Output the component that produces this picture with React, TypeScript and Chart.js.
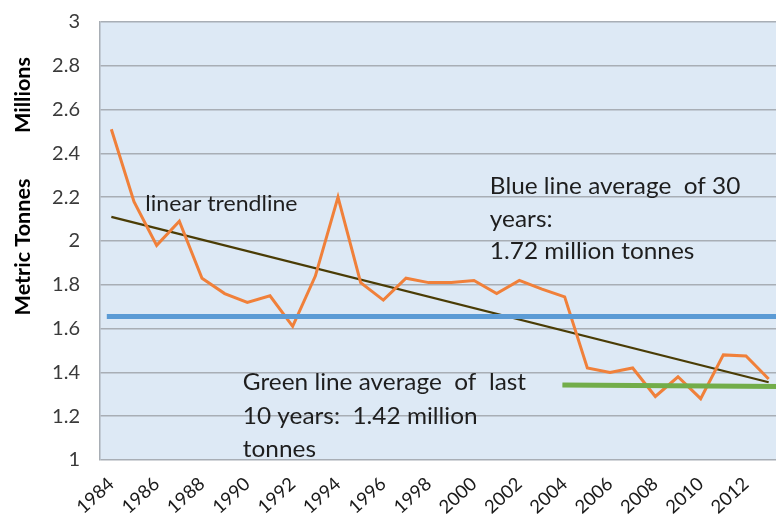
import { useEffect, useRef } from "react";
import { Chart, registerables } from "chart.js";

Chart.register(...registerables);

// ---- data ----
const years = [
  1984, 1985, 1986, 1987, 1988, 1989, 1990, 1991, 1992, 1993,
  1994, 1995, 1996, 1997, 1998, 1999, 2000, 2001, 2002, 2003,
  2004, 2005, 2006, 2007, 2008, 2009, 2010, 2011, 2012, 2013,
];
const production = [
  2.51, 2.18, 1.98, 2.09, 1.83, 1.76, 1.72, 1.75, 1.61, 1.84,
  2.2, 1.81, 1.73, 1.83, 1.81, 1.81, 1.82, 1.76, 1.82, 1.78,
  1.745, 1.42, 1.4, 1.42, 1.29, 1.38, 1.28, 1.48, 1.475, 1.37,
];
const trendYears = [1984, 2013];
const trendValues = [2.11, 1.355];
const blueAvgYears = [1983.8, 2013.6];
const blueAvgValues = [1.655, 1.655];
const greenAvgYears = [2003.9, 2013.6];
const greenAvgValues = [1.342, 1.336];
const xTickYears = [1984, 1986, 1988, 1990, 1992, 1994, 1996, 1998, 2000, 2002, 2004, 2006, 2008, 2010, 2012];
const yMin = 1;
const yMax = 3;
const yStep = 0.2;

const trendLabel = "linear trendline";
const blueNote = ["Blue line average  of 30", "years:", "1.72 million tonnes"];
const greenNote = ["Green line average  of  last", "10 years:  1.42 million", "tonnes"];
const axisTitle = "Metric Tonnes";
const unitsLabel = "Millions";

const pts = (xs: number[], ys: number[]) => xs.map((x, i) => ({ x, y: ys[i] }));

const FONT = "Lato, 'Open Sans', sans-serif";

const bgPlugin = {
  id: "plotBg",
  beforeDraw(chart: any) {
    const { ctx, chartArea } = chart;
    ctx.save();
    ctx.fillStyle = "#dde9f5";
    ctx.fillRect(chartArea.left, chartArea.top, chartArea.right - chartArea.left, chartArea.bottom - chartArea.top);
    ctx.restore();
  },
};

function stretchedText(ctx: any, text: string, x: number, y: number, font: string, sx: number, rot = 0, align = "left") {
  ctx.save();
  ctx.translate(x, y);
  if (rot) ctx.rotate(rot);
  ctx.scale(sx, 1);
  ctx.font = font;
  ctx.textAlign = align;
  ctx.textBaseline = "middle";
  ctx.fillText(text, 0, 0);
  ctx.restore();
}

const textPlugin = {
  id: "notes",
  afterDatasetsDraw(chart: any) {
    const { ctx } = chart;
    const xs = chart.scales.x;
    const ys = chart.scales.y;
    ctx.save();
    ctx.fillStyle = "#1e1e1e";
    stretchedText(ctx, trendLabel, xs.getPixelForValue(1985.5), ys.getPixelForValue(2.169), `21px ${FONT}`, 1.1);
    const bx = xs.getPixelForValue(2000.7);
    blueNote.forEach((t, i) =>
      stretchedText(ctx, t, bx, ys.getPixelForValue(2.247) + i * 32.5, `23px ${FONT}`, 1.06)
    );
    const gx = xs.getPixelForValue(1989.8);
    greenNote.forEach((t, i) =>
      stretchedText(ctx, t, gx, ys.getPixelForValue(1.352) + i * 33.5, `23px ${FONT}`, 1.06)
    );
    ctx.fillStyle = "#000";
    stretchedText(ctx, axisTitle, 24, 247, `bold 20px ${FONT}`, 1.08, -Math.PI / 2, "center");
    stretchedText(ctx, unitsLabel, 24, 95, `bold 20px ${FONT}`, 1.08, -Math.PI / 2, "center");
    ctx.restore();
  },
};

export default function App() {
  const ref = useRef<HTMLCanvasElement | null>(null);
  useEffect(() => {
    if (!ref.current) return;
    const chart = new Chart(ref.current, {
      type: "line",
      data: {
        datasets: [
          {
            label: "green",
            data: pts(greenAvgYears, greenAvgValues),
            borderColor: "#72ad4a",
            borderWidth: 5,
            pointRadius: 0,
          },
          {
            label: "blue",
            data: pts(blueAvgYears, blueAvgValues),
            borderColor: "#5b9bd5",
            borderWidth: 5,
            pointRadius: 0,
          },
          {
            label: "production",
            data: pts(years, production),
            borderColor: "#f0803a",
            borderWidth: 3,
            pointRadius: 0,
            tension: 0,
          },
          {
            label: "trend",
            data: pts(trendYears, trendValues),
            borderColor: "#4a3c05",
            borderWidth: 2.3,
            pointRadius: 0,
          },
        ],
      },
      options: {
        animation: false,
        responsive: false,
        layout: { padding: { top: 22, right: 0, left: 0, bottom: 0 } },
        plugins: { legend: { display: false }, tooltip: { enabled: false } },
        scales: {
          x: {
            type: "linear",
            min: 1983.5,
            max: 2013.5,
            afterBuildTicks(scale: any) {
              scale.ticks = xTickYears.map((v) => ({ value: v }));
            },
            afterFit(scale: any) {
              scale.height = 65;
              scale.paddingLeft = 0;
              scale.paddingRight = 0;
            },
            grid: { display: false },
            border: { display: false },
            ticks: {
              minRotation: 42,
              maxRotation: 42,
              padding: 5,
              color: "#1a1a1a",
              font: { family: FONT, size: 18.5 },
              callback: (v: any) => String(v),
            },
          },
          y: {
            min: yMin,
            max: yMax,
            afterFit(scale: any) {
              scale.width = 100;
              scale.paddingTop = 0;
              scale.paddingBottom = 0;
            },
            grid: { color: "#a8aeb5", lineWidth: 1.5, drawTicks: false },
            border: { color: "#a8aeb5", width: 1.5 },
            ticks: {
              stepSize: yStep,
              padding: 20,
              color: "#3a3a3a",
              font: { family: FONT, size: 20 },
              callback: (v: any) => String(Number(Number(v).toFixed(1))),
            },
          },
        },
      },
      plugins: [bgPlugin, textPlugin],
    });
    return () => chart.destroy();
  }, []);
  return (
    <div style={{ position: "fixed", left: 0, top: 0, width: 776, height: 525, overflow: "hidden", background: "#fff" }}>
      <canvas ref={ref} width={780} height={525} style={{ display: "block" }} />
    </div>
  );
}
